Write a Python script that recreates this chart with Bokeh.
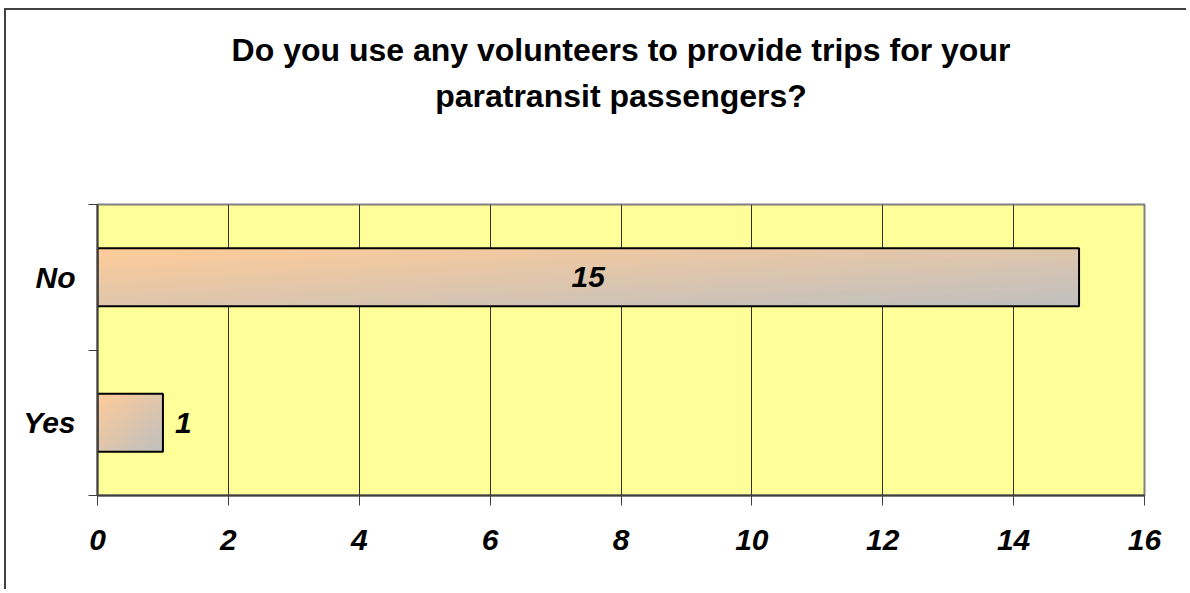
import numpy as np
from bokeh.plotting import figure
from bokeh.models import Range1d, FixedTicker, Title
from bokeh.core.properties import value
from bokeh.embed import file_html
from bokeh.resources import INLINE

# ---- data ----
categories = ["Yes", "No"]
counts = [1, 15]
x_ticks = [0, 2, 4, 6, 8, 10, 12, 14, 16]
title_lines = ["Do you use any volunteers to provide trips for your",
               "paratransit passengers?"]

FONT = "Liberation Sans"
W, H = 1182, 581

p = figure(width=W, height=H, output_backend="svg", toolbar_location=None,
           x_range=Range1d(0, 16), y_range=Range1d(0, len(categories)),
           min_border_left=91, min_border_right=44, min_border_top=194,
           min_border_bottom=96)
p.title = None
# spacer between frame and title (items added first sit closest to the frame)
p.add_layout(Title(text=" ", standoff=84, text_font_size="1px"), "above")
for line in reversed(title_lines):
    p.add_layout(Title(text=line, align="center", standoff=8,
                       text_font=FONT, text_font_style="bold",
                       text_font_size="32px", text_color="black"), "above")
p.background_fill_color = "#FFFF99"
p.border_fill_color = "white"
p.outline_line_color = "#808080"
p.outline_line_width = 2
p.styles = {"border-left": "2px solid #404040", "border-top": "2px solid #404040",
            "margin-left": "4px", "margin-top": "8px"}

pos = [i + 0.5 for i in range(len(categories))]
bar_h = 0.4

# gradient fill (top-left orange to bottom-right grey)
N, M = 40, 200
u = np.linspace(0, 1, M)[None, :]
v = (1 - np.linspace(0, 1, N))[:, None]  # row 0 is bottom
t = (u + v) / 2.0
c0 = np.array([255, 204, 153])
c1 = np.array([192, 192, 192])
img = np.zeros((N, M), dtype=np.uint32)
view = img.view(dtype=np.uint8).reshape((N, M, 4))
for k in range(3):
    view[:, :, k] = (c0[k] + (c1[k] - c0[k]) * t).astype(np.uint8)
view[:, :, 3] = 255

p.image_rgba(image=[img] * len(counts), x=[0] * len(counts),
             y=[y - bar_h / 2 for y in pos], dw=counts, dh=[bar_h] * len(counts))
p.hbar(y=pos, right=counts, left=0, height=bar_h, fill_alpha=0,
       line_color="black", line_width=2)

# value labels
lx, la, lo = [], [], []
for c in counts:
    if c > 2:
        lx.append(c / 2); la.append("center"); lo.append(0)
    else:
        lx.append(c); la.append("left"); lo.append(12)
p.text(x=lx, y=pos, text=[str(c) for c in counts], text_align=la, x_offset=lo,
       text_baseline="middle", text_font=value(FONT), text_font_style="bold italic",
       text_font_size="30px", text_color="black")

# x axis
p.xaxis.ticker = FixedTicker(ticks=x_ticks)
p.xaxis.major_tick_out = 10
p.xaxis.major_tick_in = 0
p.xaxis.minor_tick_line_color = None
p.xaxis.axis_line_color = "#404040"
p.xaxis.axis_line_width = 2
p.xaxis.major_tick_line_color = "#404040"
p.xaxis.major_label_text_font = FONT
p.xaxis.major_label_text_font_style = "bold italic"
p.xaxis.major_label_text_font_size = "30px"
p.xaxis.major_label_text_color = "black"
p.xaxis.major_label_standoff = 24

# y axis
p.yaxis.ticker = FixedTicker(ticks=pos, minor_ticks=list(range(len(categories) + 1)))
p.yaxis.major_label_overrides = {y: c for y, c in zip(pos, categories)}
p.yaxis.major_tick_out = 0
p.yaxis.major_tick_in = 0
p.yaxis.minor_tick_out = 9
p.yaxis.minor_tick_in = 0
p.yaxis.minor_tick_line_color = "#404040"
p.yaxis.axis_line_color = "#404040"
p.yaxis.axis_line_width = 2
p.yaxis.major_label_text_font = FONT
p.yaxis.major_label_text_font_style = "bold italic"
p.yaxis.major_label_text_font_size = "30px"
p.yaxis.major_label_text_color = "black"
p.yaxis.major_label_standoff = 13

# grid
p.xgrid.ticker = FixedTicker(ticks=x_ticks)
p.xgrid.grid_line_color = "#333333"
p.xgrid.grid_line_width = 1
p.ygrid.grid_line_color = None

open("out.html", "w").write(file_html(p, INLINE))
